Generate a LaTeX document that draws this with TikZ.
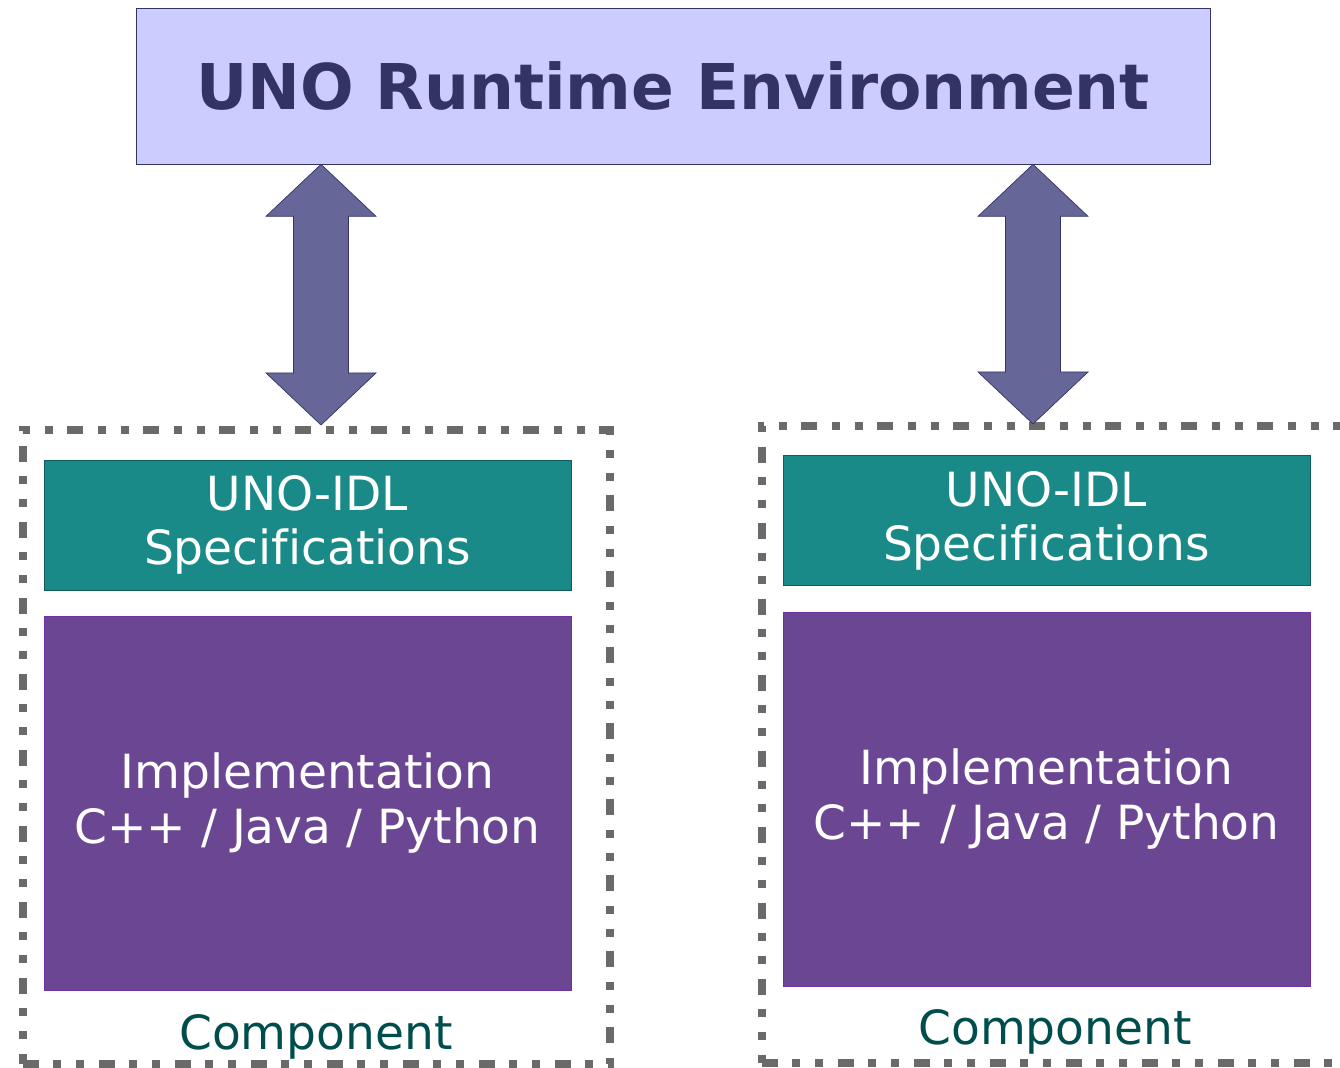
\documentclass[tikz,border=0pt]{standalone}
\usepackage{fontspec}
\setmainfont{DejaVu Sans}[Ligatures=NoCommon]
\usetikzlibrary{calc}
\definecolor{unoback}{HTML}{CCCCFF}
\definecolor{unoline}{HTML}{333366}
\definecolor{arrowfill}{HTML}{666699}
\definecolor{idlfill}{HTML}{1A8A88}
\definecolor{idlline}{HTML}{0F5C5A}
\definecolor{implfill}{HTML}{6B4793}
\definecolor{implline}{HTML}{7030A0}
\definecolor{comptext}{HTML}{004D4D}
\definecolor{frameline}{HTML}{6A6A6A}
% two-headed block arrow from #1 (top tip) to #2 (bottom tip)
\newcommand{\duplexarrow}[2]{
  \draw[duplex] (#1) -- ++(1.1,-1.04) -- ++(-0.55,0) -- ($(#2)+(0.55,1.04)$)
    -- ++(0.55,0) -- (#2) -- ++(-1.1,1.04) -- ++(0.55,0)
    -- ($(#1)+(-0.55,-1.04)$) -- ++(-0.55,0) -- cycle;
}
\begin{document}
\begin{tikzpicture}[
  box/.style={draw,minimum width=10.54cm,text=white,align=center,
    font=\fontsize{26.8}{30.8}\selectfont},
  idl/.style={box,fill=idlfill,draw=idlline,minimum height=2.6cm},
  impl/.style={box,fill=implfill,draw=implline,minimum height=7.48cm},
  compframe/.style={draw=frameline,line width=0.15cm,
    dash pattern=on 0.32cm off 0.28cm on 0.16cm off 0.3cm on 0.16cm off 0.3cm},
  comptitle/.style={text=comptext,anchor=base,font=\fontsize{26.8}{30.8}\selectfont},
  duplex/.style={fill=arrowfill,draw=unoline,thin}]
  \useasboundingbox (0,0) rectangle (26.8,21.34);
  \node[draw=unoline,fill=unoback,minimum width=21.48cm,minimum height=3.12cm,
    text=unoline,font=\fontsize{35.9}{44}\selectfont\bfseries] (uno) at (13.46,19.62) {UNO Runtime Environment};

  % left component
  \node[compframe,minimum width=11.74cm,minimum height=12.68cm] (lcomp) at (6.33,6.4) {};
  \node[idl] (lidl) at (6.15,10.84) {UNO-IDL\\Specifications};
  \node[impl] (limpl) at (6.15,5.28) {Implementation\\C++ / Java / Python};
  \node[comptitle] (lname) at (6.32,0.36) {Component};

  % right component
  \node[compframe,minimum width=11.66cm,minimum height=12.74cm] (rcomp) at (21.07,6.45) {};
  \node[idl] (ridl) at (20.93,10.93) {UNO-IDL\\Specifications};
  \node[impl] (rimpl) at (20.93,5.36) {Implementation\\C++ / Java / Python};
  \node[comptitle] (rname) at (21.1,0.44) {Component};

  \coordinate (lup) at (6.42,0 |- uno.south);
  \coordinate (ldown) at (6.42,12.84);
  \coordinate (rup) at (20.66,0 |- uno.south);
  \coordinate (rdown) at (20.66,12.86);
  \duplexarrow{lup}{ldown}
  \duplexarrow{rup}{rdown}
\end{tikzpicture}
\end{document}
